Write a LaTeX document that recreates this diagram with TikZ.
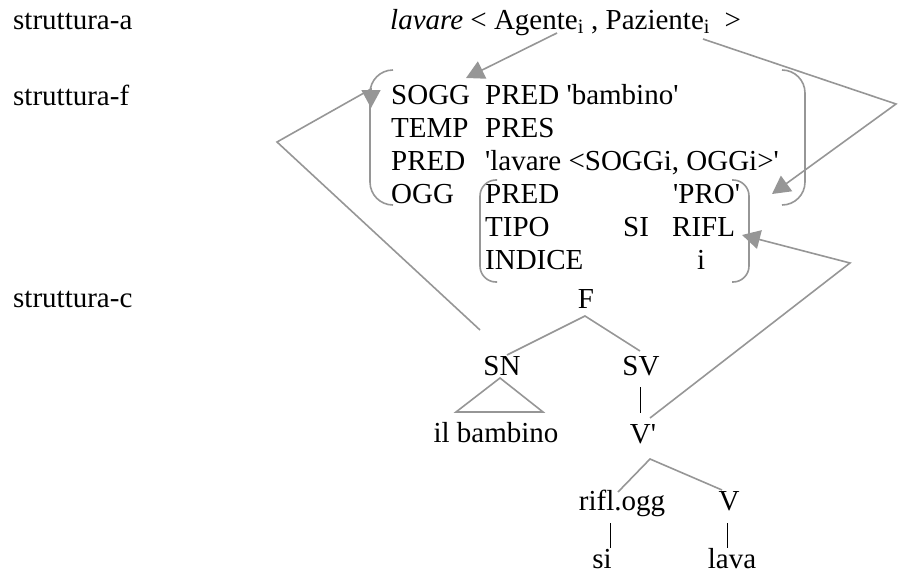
\documentclass[tikz,border=0pt]{standalone}
\usepackage{fontspec}
\setmainfont{Liberation Serif}[Ligatures=TeXOff]
\usetikzlibrary{arrows.meta}
\definecolor{linegray}{RGB}{150,150,150}

\begin{document}
\begin{tikzpicture}[x=1pt,y=-1pt,
  txt/.style={anchor=base west, inner sep=0pt, font=\fontsize{29}{33}\selectfont},
  ctxt/.style={anchor=base, inner sep=0pt, font=\fontsize{29}{33}\selectfont},
  link/.style={draw=linegray, line width=1.6pt},
  pointer/.style={link, -{Triangle[length=18pt,width=19pt]}},
  bar/.style={draw=black, line width=0.9pt}
]
\useasboundingbox (0,0) rectangle (898,581);

% level labels
\node[txt] (sa) at (13,29) {struttura-a};
\node[txt] (sf) at (13,105) {struttura-f};
\node[txt] (sc) at (13,307) {struttura-c};

% argument structure
\node[txt] (arg) at (390,29) {\textit{lavare} < Agente\textsubscript{i} , Paziente\textsubscript{i} \ >};
\coordinate (agFoot) at (557,33);
\coordinate (pazFoot) at (703,39);

% f-structure, outer matrix
\node[txt] (sogg)   at (391,104) {SOGG};
\node[txt] (soggv)  at (485,104) {PRED 'bambino'};
\node[txt] (temp)   at (391,137) {TEMP};
\node[txt] (tempv)  at (485,137) {PRES};
\node[txt] (pred)   at (391,170) {PRED};
\node[txt] (predv)  at (485,170) {'lavare <SOGGi, OGGi>'};
\node[txt] (ogg)    at (391,203) {OGG};
% inner matrix
\node[txt] (ipred)  at (485,203) {PRED};
\node[txt] (ipredv) at (673,203) {'PRO'};
\node[txt] (tipo)   at (485,236) {TIPO};
\node[txt] (tiposi) at (623,236) {SI};
\node[txt] (tipov)  at (672,236) {RIFL};
\node[txt] (indice) at (485,269) {INDICE};
\node[txt] (indv)   at (697,269) {i};

% brackets
\draw[link, rounded corners=23pt] (393,70) -- (370,70) -- (370,205) -- (393,205);
\draw[link, rounded corners=23pt] (782,70) -- (805,70) -- (805,205) -- (782,205);
\draw[link, rounded corners=16pt] (497,180) -- (480,180) -- (480,282) -- (497,282);
\draw[link, rounded corners=16pt] (732,180) -- (749,180) -- (749,282) -- (732,282);

% constituent structure
\node[ctxt] (F)      at (586,308) {F};
\node[ctxt] (SN)     at (502,375) {SN};
\node[ctxt] (SV)     at (641,375) {SV};
\node[ctxt] (bamb)   at (496,442) {il bambino};
\node[ctxt] (Vbar)   at (643,443) {V'};
\node[ctxt] (riflo)  at (622,510) {rifl.ogg};
\node[ctxt] (V)      at (729,510) {V};
\node[ctxt] (si)     at (602,568) {si};
\node[ctxt] (lava)   at (732,568) {lava};

\coordinate (Fapex)  at (585,316);
\coordinate (SNtop)  at (507,355);
\coordinate (SVtop)  at (640,351);
\coordinate (triTop) at (500,378);
\coordinate (triL)   at (456,412);
\coordinate (triR)   at (543,412);
\coordinate (SVbot)  at (640,387);
\coordinate (Vbtop)  at (640,413);
\coordinate (Vbapex) at (650,459);
\coordinate (rotop)  at (618,492);
\coordinate (Vtop)   at (722,490);
\coordinate (robot)  at (610,523);
\coordinate (sitop)  at (610,548);
\coordinate (Vbot)   at (727,523);
\coordinate (lavatop) at (727,548);

\draw[link] (SNtop) -- (Fapex) -- (SVtop);
\draw[link] (triL) -- (triTop) -- (triR) -- cycle;
\draw[bar] (SVbot) -- (Vbtop);
\draw[link] (rotop) -- (Vbapex) -- (Vtop);
\draw[bar] (robot) -- (sitop);
\draw[bar] (Vbot) -- (lavatop);

% mapping arrows
\coordinate (soggIn)  at (466,78);
\coordinate (apexR)   at (896,104);
\coordinate (oggIn)   at (772,194);
\coordinate (snFoot)  at (480,330);
\coordinate (apexL)   at (277,142);
\coordinate (bendL)   at (371,89);
\coordinate (soggL)   at (371,108);
\coordinate (vFoot)   at (650,418);
\coordinate (apexR2)  at (850,263);
\coordinate (riflIn)  at (742,235);

\draw[pointer] (agFoot) -- (soggIn);
\draw[pointer] (pazFoot) -- (apexR) -- (oggIn);
\draw[pointer] (snFoot) -- (apexL) -- (bendL) -- (soggL);
\draw[pointer] (vFoot) -- (apexR2) -- (riflIn);
\end{tikzpicture}
\end{document}
